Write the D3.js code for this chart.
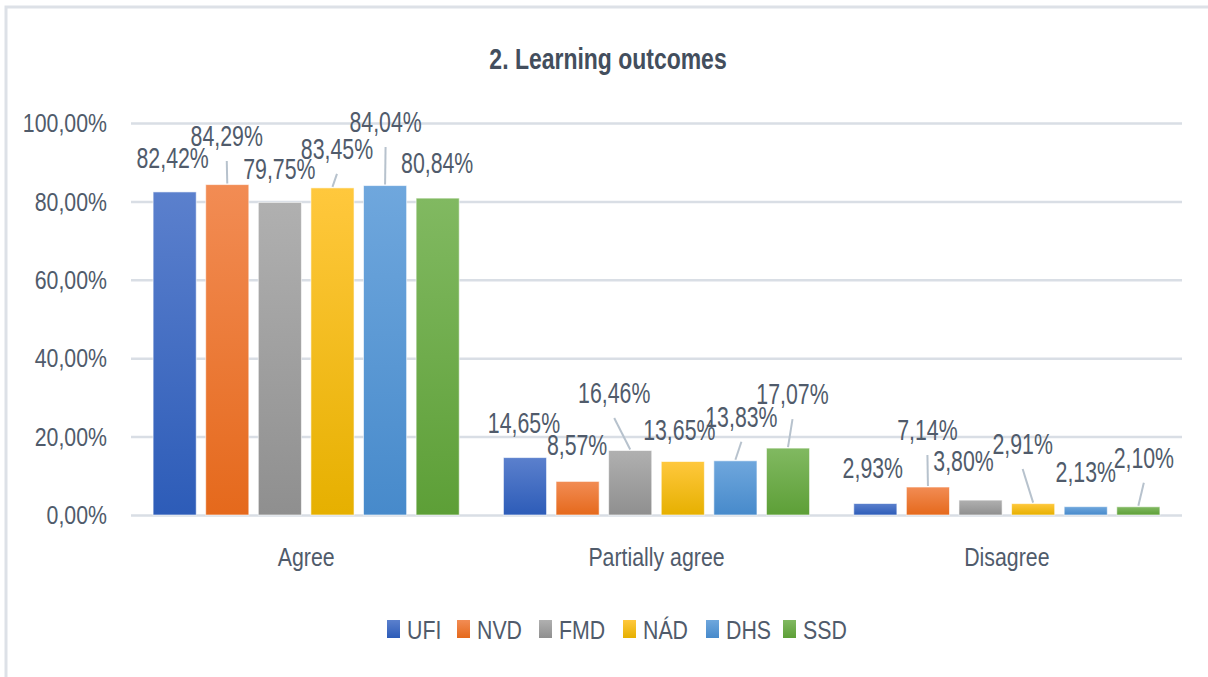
<!DOCTYPE html>
<html>
<head>
<meta charset="utf-8">
<script src="https://cdn.jsdelivr.net/npm/d3@7"></script>
<style>
  body { margin: 0; background: #fff; }
  svg text { font-family: "Liberation Sans", Arial, sans-serif; }
</style>
</head>
<body>
<svg id="chart" width="1208" height="677"></svg>
<script>
// data
var categories = ["Agree", "Partially agree", "Disagree"];
var series = ["UFI", "NVD", "FMD", "NÁD", "DHS", "SSD"];
var UFI = [0.8242, 0.1465, 0.0293];
var NVD = [0.8429, 0.0857, 0.0714];
var FMD = [0.7975, 0.1646, 0.0380];
var NAD = [0.8345, 0.1365, 0.0291];
var DHS = [0.8404, 0.1383, 0.0213];
var SSD = [0.8084, 0.1707, 0.0210];
var yTicks = [0, 0.2, 0.4, 0.6, 0.8, 1.0];

var values = [UFI, NVD, FMD, NAD, DHS, SSD];

// gradient colours, top -> bottom
var colorsTop = ["#5b80cd", "#f28c54", "#b0b0b0", "#ffc83d", "#6fa7dd", "#81b961"];
var colorsBottom = ["#2d5cb8", "#e5691c", "#8f8f8f", "#e6b000", "#478acb", "#5d9f37"];

// excel moved some data labels by hand: [dx, dy, leader] per series, per category
var labelNudge = [
    [[-2, -24, 0], [-1, -25, 0], [-2.5, -25.5, 0]],
    [[-0.5, -38.6, 1], [-0.5, -26.4, 0], [-0.5, -47, 1]],
    [[-0.5, -23.4, 0], [-16, -47.5, 1], [-17, -29.4, 0]],
    [[4.5, -29, 1], [-3.5, -21.5, 0], [-10.5, -49.6, 1]],
    [[0.5, -53.6, 1], [6, -34, 1], [0, -25, 0]],
    [[-0.5, -25, 0], [4.5, -44, 1], [5.5, -39, 1]]
];

var textColor = "#505b6b";
var gridColor = "#d9dee5";

var svg = d3.select("#chart");

var locale = d3.formatLocale({decimal: ",", thousands: ".", grouping: [3], currency: ["", ""]});
var pct = locale.format(".2%");

// puts a text at (x, y) and makes it narrow like the picture's font
function place(sel, fx, fy, sx, sy) {
    sx = sx || 0.82;
    sy = sy || 1;
    sel.attr("transform", function (d, i) {
        var px = typeof fx === "function" ? fx(d, i) : fx;
        var py = typeof fy === "function" ? fy(d, i) : fy;
        return "translate(" + px + "," + py + ") scale(" + sx + "," + sy + ")";
    });
}

// outer chart border
svg.append("rect")
    .attr("x", 6).attr("y", 7)
    .attr("width", 1300).attr("height", 800)
    .attr("fill", "none")
    .attr("stroke", "#dde1e7")
    .attr("stroke-width", 3);

var x0 = d3.scaleBand()
    .domain(categories)
    .range([131, 1182]);

var x1 = d3.scaleBand()
    .domain(series)
    .range([0, x0.bandwidth()])
    .paddingInner(0.18)
    .paddingOuter(0.42);

var y = d3.scaleLinear()
    .domain([0, 1])
    .range([515, 123]);

// gradients
var defs = svg.append("defs");
series.forEach(function (s, i) {
    var lg = defs.append("linearGradient")
        .attr("id", "grad" + i)
        .attr("x1", 0).attr("y1", 0)
        .attr("x2", 0).attr("y2", 1);
    lg.append("stop").attr("offset", "0%").attr("stop-color", colorsTop[i]);
    lg.append("stop").attr("offset", "100%").attr("stop-color", colorsBottom[i]);
});

// title
svg.append("text")
    .attr("text-anchor", "middle")
    .attr("font-size", 28)
    .attr("font-weight", "bold")
    .attr("fill", "#434e5d")
    .text("2. Learning outcomes")
    .call(place, 608, 69, 0.82, 1.04);

// grid
svg.append("g")
    .attr("class", "grid")
    .call(d3.axisLeft(y)
        .tickValues(yTicks)
        .tickSize(-(1182 - 131))
        .tickFormat(""))
    .attr("transform", "translate(131,0)")
    .call(function (g) {
        g.select(".domain").remove();
        g.selectAll("line")
            .attr("stroke", gridColor)
            .attr("stroke-width", 2.5);
    });

// y labels
svg.append("g")
    .selectAll("text")
    .data(yTicks)
    .enter()
    .append("text")
    .attr("dy", "0.35em")
    .attr("text-anchor", "end")
    .attr("font-size", 26)
    .attr("fill", textColor)
    .text(function (d) { return pct(d); })
    .call(place, 107, function (d) { return y(d); });

// category labels
svg.append("g")
    .selectAll("text")
    .data(categories)
    .enter()
    .append("text")
    .attr("text-anchor", "middle")
    .attr("font-size", 26)
    .attr("fill", textColor)
    .text(function (d) { return d; })
    .call(place, function (d) { return x0(d) + x0.bandwidth() / 2; }, 566);

// bars
var rows = [];
series.forEach(function (s, i) {
    categories.forEach(function (c, j) {
        rows.push({s: s, si: i, c: c, cj: j, v: values[i][j]});
    });
});

function barCx(d) {
    return x0(d.c) + x1(d.s) + x1.bandwidth() / 2;
}

svg.append("g")
    .selectAll("rect")
    .data(rows)
    .enter()
    .append("rect")
    .attr("x", function (d) { return x0(d.c) + x1(d.s); })
    .attr("y", function (d) { return y(d.v); })
    .attr("width", x1.bandwidth())
    .attr("height", function (d) { return y(0) - y(d.v); })
    .attr("fill", function (d) { return "url(#grad" + d.si + ")"; })
    .attr("stroke", "#ffffff")
    .attr("stroke-opacity", 0.6)
    .attr("stroke-width", 1);

// leader lines
svg.append("g")
    .selectAll("line")
    .data(rows.filter(function (d) { return labelNudge[d.si][d.cj][2]; }))
    .enter()
    .append("line")
    .attr("x1", function (d) { return barCx(d) + labelNudge[d.si][d.cj][0]; })
    .attr("y1", function (d) { return y(d.v) + labelNudge[d.si][d.cj][1] + 15; })
    .attr("x2", function (d) { return barCx(d); })
    .attr("y2", function (d) { return y(d.v) - 1; })
    .attr("stroke", "#b7c2cd")
    .attr("stroke-width", 2);

// data labels
svg.append("g")
    .selectAll("text")
    .data(rows)
    .enter()
    .append("text")
    .attr("text-anchor", "middle")
    .attr("font-size", 27)
    .attr("fill", textColor)
    .text(function (d) { return pct(d.v); })
    .call(place,
        function (d) { return barCx(d) + labelNudge[d.si][d.cj][0]; },
        function (d) { return y(d.v) + labelNudge[d.si][d.cj][1]; },
        0.79, 1.06);

// legend
var legendX = [387, 457, 539, 623, 706, 783];
var legend = svg.append("g")
    .selectAll("g")
    .data(series)
    .enter()
    .append("g")
    .attr("transform", function (d, i) { return "translate(" + legendX[i] + ",620)"; });

legend.append("rect")
    .attr("width", 13)
    .attr("height", 18)
    .attr("fill", function (d, i) { return "url(#grad" + i + ")"; });

legend.append("text")
    .attr("font-size", 26)
    .attr("fill", textColor)
    .text(function (d) { return d; })
    .call(place, 20, 19);
</script>
</body>
</html>
